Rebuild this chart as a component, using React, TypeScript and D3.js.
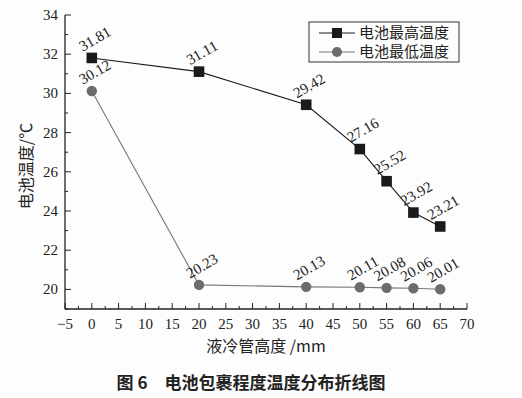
import * as d3 from "d3";
import { FC, useEffect, useRef } from "react";

const heights = [0, 20, 40, 50, 55, 60, 65];
const maxTemp = [31.81, 31.11, 29.42, 27.16, 25.52, 23.92, 23.21];
const minTemp = [30.12, 20.23, 20.13, 20.11, 20.08, 20.06, 20.01];
const xTicks = [-5, 0, 5, 10, 15, 20, 25, 30, 35, 40, 45, 50, 55, 60, 65, 70];
const yTicks = [20, 22, 24, 26, 28, 30, 32, 34];
const seriesNames = ["电池最高温度", "电池最低温度"];

const W = 522;
const H = 398;
const SERIF = "'Liberation Serif', 'DejaVu Serif', serif";
const CJK = "'Noto Sans CJK SC', sans-serif";

const App: FC = () => {
  const ref = useRef<SVGSVGElement | null>(null);

  useEffect(() => {
    if (!ref.current) return;
    const svg = d3.select(ref.current);
    svg.selectAll("*").remove();

    const x = d3.scaleLinear([-5, 70], [65, 467]);
    const y = d3.scaleLinear([19, 34], [309, 15]);

    svg.append("rect").attr("width", W).attr("height", H).attr("fill", "#fdfdfd");

    // axes
    const xAxis = svg.append("g").attr("transform", `translate(0, ${y(19)})`);
    xAxis
      .append("line")
      .attr("x1", x(-5))
      .attr("x2", x(70))
      .attr("stroke", "#222")
      .attr("stroke-width", 1.3);
    d3.range(-5, 70.1, 2.5).forEach((v) => {
      const major = Number.isInteger(v / 5);
      xAxis
        .append("line")
        .attr("x1", x(v))
        .attr("x2", x(v))
        .attr("y1", 0)
        .attr("y2", major ? -6 : -3)
        .attr("stroke", "#222");
    });
    xAxis
      .selectAll("text")
      .data(xTicks)
      .enter()
      .append("text")
      .attr("x", (d) => x(d))
      .attr("y", 20)
      .attr("text-anchor", "middle")
      .attr("font-family", SERIF)
      .attr("font-size", 15)
      .attr("fill", "#222")
      .text((d) => (d < 0 ? `\u2212${-d}` : `${d}`));

    const yAxis = svg.append("g").attr("transform", `translate(${x(-5)}, 0)`);
    yAxis
      .append("line")
      .attr("y1", y(19))
      .attr("y2", y(34))
      .attr("stroke", "#222")
      .attr("stroke-width", 1.3);
    d3.range(19, 34.1, 1).forEach((v) => {
      const major = v % 2 === 0;
      yAxis
        .append("line")
        .attr("y1", y(v))
        .attr("y2", y(v))
        .attr("x1", 0)
        .attr("x2", major ? 6 : 3)
        .attr("stroke", "#222");
    });
    yAxis
      .selectAll("text")
      .data(yTicks)
      .enter()
      .append("text")
      .attr("x", -7)
      .attr("y", (d) => y(d) + 5)
      .attr("text-anchor", "end")
      .attr("font-family", SERIF)
      .attr("font-size", 15)
      .attr("fill", "#222")
      .text((d) => d);

    // axis titles
    svg
      .append("text")
      .attr("transform", `translate(32, 166) rotate(-90)`)
      .attr("text-anchor", "middle")
      .attr("font-family", CJK)
      .attr("font-size", 16)
      .attr("fill", "#222")
      .text("电池温度/℃");
    svg
      .append("text")
      .attr("x", 266)
      .attr("y", 352)
      .attr("text-anchor", "middle")
      .attr("font-family", CJK)
      .attr("font-size", 16)
      .attr("fill", "#222")
      .text("液冷管高度 /mm");
    svg
      .append("text")
      .attr("x", 251)
      .attr("y", 389)
      .attr("text-anchor", "middle")
      .attr("font-family", CJK)
      .attr("font-size", 17)
      .attr("font-weight", "bold")
      .attr("fill", "#222")
      .text("图 6\u3000电池包裹程度温度分布折线图");

    const line = d3
      .line<[number, number]>()
      .x((d) => x(d[0]))
      .y((d) => y(d[1]));

    const maxPts = heights.map((h, i) => [h, maxTemp[i]] as [number, number]);
    const minPts = heights.map((h, i) => [h, minTemp[i]] as [number, number]);

    svg
      .append("path")
      .attr("d", line(minPts))
      .attr("fill", "none")
      .attr("stroke", "#777")
      .attr("stroke-width", 1.1);
    svg
      .selectAll("circle.min")
      .data(minPts)
      .enter()
      .append("circle")
      .attr("class", "min")
      .attr("cx", (d) => x(d[0]))
      .attr("cy", (d) => y(d[1]))
      .attr("r", 5.2)
      .attr("fill", "#6c6c6e");

    svg
      .append("path")
      .attr("d", line(maxPts))
      .attr("fill", "none")
      .attr("stroke", "#1a1a1a")
      .attr("stroke-width", 1.1);
    svg
      .selectAll("rect.max")
      .data(maxPts)
      .enter()
      .append("rect")
      .attr("class", "max")
      .attr("x", (d) => x(d[0]) - 5.3)
      .attr("y", (d) => y(d[1]) - 5.3)
      .attr("width", 10.6)
      .attr("height", 10.6)
      .attr("fill", "#1a1a1a");

    const labels = (pts: [number, number][]) =>
      svg
        .append("g")
        .selectAll("text")
        .data(pts)
        .enter()
        .append("text")
        .attr(
          "transform",
          (d) => `translate(${x(d[0]) + 3}, ${y(d[1]) - 19}) rotate(-30)`
        )
        .attr("text-anchor", "middle")
        .attr("dominant-baseline", "central")
        .attr("font-family", SERIF)
        .attr("font-size", 15)
        .attr("fill", "#222")
        .text((d) => d[1].toFixed(2));
    labels(maxPts);
    labels(minPts);

    // legend
    const lg = svg.append("g").attr("transform", "translate(309, 22)");
    lg.append("rect")
      .attr("width", 150)
      .attr("height", 40)
      .attr("fill", "#fdfdfd")
      .attr("stroke", "#333")
      .attr("stroke-width", 1);
    seriesNames.forEach((name, i) => {
      const cy = 11 + i * 19;
      const col = i === 0 ? "#1a1a1a" : "#777";
      lg.append("line")
        .attr("x1", 10)
        .attr("x2", 46)
        .attr("y1", cy)
        .attr("y2", cy)
        .attr("stroke", col);
      if (i === 0) {
        lg.append("rect")
          .attr("x", 23)
          .attr("y", cy - 5)
          .attr("width", 10)
          .attr("height", 10)
          .attr("fill", "#1a1a1a");
      } else {
        lg.append("circle")
          .attr("cx", 28)
          .attr("cy", cy)
          .attr("r", 5)
          .attr("fill", "#6c6c6e");
      }
      lg.append("text")
        .attr("x", 50)
        .attr("y", cy + 5)
        .attr("font-family", CJK)
        .attr("font-size", 15)
        .attr("fill", "#222")
        .text(name);
    });
  }, []);

  return (
    <svg
      ref={ref}
      width={W}
      height={H}
      style={{ position: "absolute", left: 0, top: 0, display: "block" }}
    />
  );
};

export default App;
